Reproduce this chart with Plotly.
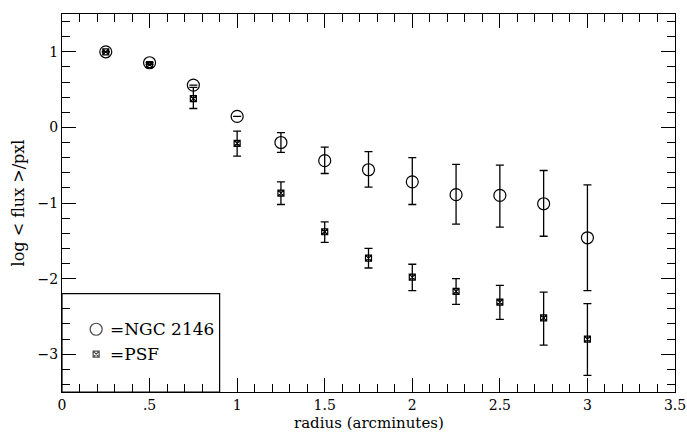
import plotly.graph_objects as go

# radius in arcminutes
radius = [0.25, 0.5, 0.75, 1.0, 1.25, 1.5, 1.75, 2.0, 2.25, 2.5, 2.75, 3.0]

# NGC 2146 profile (log flux/pxl) with upper/lower error extents
ngc = [1.0, 0.855, 0.56, 0.145, -0.20, -0.44, -0.56, -0.72, -0.89, -0.90, -1.01, -1.46]
ngc_up = [0, 0, 0, 0, 0.13, 0.18, 0.24, 0.32, 0.40, 0.40, 0.44, 0.70]
ngc_dn = [0, 0, 0, 0, 0.13, 0.17, 0.23, 0.30, 0.39, 0.42, 0.43, 0.70]

# PSF profile
psf = [1.0, 0.83, 0.38, -0.21, -0.87, -1.38, -1.73, -1.98, -2.17, -2.31, -2.52, -2.80]
psf_up = [0, 0, 0.15, 0.16, 0.15, 0.13, 0.13, 0.17, 0.17, 0.22, 0.34, 0.47]
psf_dn = [0, 0, 0.13, 0.17, 0.15, 0.14, 0.13, 0.18, 0.17, 0.23, 0.36, 0.48]

x_ticks = [0, 0.5, 1, 1.5, 2, 2.5, 3, 3.5]
x_labels = ["0", ".5", "1", "1.5", "2", "2.5", "3", "3.5"]
y_ticks = [-3, -2, -1, 0, 1]

legend_names = ["=NGC 2146", "=PSF"]
x_title = "radius (arcminutes)"
y_title = "log < flux >/pxl"

FONT = "DejaVu Serif"
BLACK = "black"

fig = go.Figure()

fig.add_trace(go.Scatter(
    x=radius, y=ngc, mode="markers", name="NGC 2146",
    marker=dict(symbol="circle-open", size=12, color=BLACK, line=dict(width=1.2)),
    error_y=dict(type="data", symmetric=False, array=ngc_up, arrayminus=ngc_dn,
                 color=BLACK, thickness=1.3, width=4),
    showlegend=False,
))

fig.add_trace(go.Scatter(
    x=radius, y=psf, mode="markers", name="PSF",
    marker=dict(symbol="square-x-open", size=6, color=BLACK, line=dict(width=1.2)),
    error_y=dict(type="data", symmetric=False, array=psf_up, arrayminus=psf_dn,
                 color=BLACK, thickness=1.3, width=4),
    showlegend=False,
))

# legend box (drawn inside the axes)
leg_x, leg_y = [0.195, 0.195], [-2.67, -3.0]
fig.add_trace(go.Scatter(
    x=leg_x, y=leg_y, mode="markers", showlegend=False, hoverinfo="skip",
    marker=dict(symbol=["circle-open", "square-x-open"], size=[12, 6], color=BLACK,
                line=dict(width=1.2)),
))
for yy, name in zip(leg_y, legend_names):
    fig.add_annotation(x=0.26, y=yy, text=name, showarrow=False, xanchor="left",
                       yanchor="middle", font=dict(family=FONT, size=17, color=BLACK))
fig.add_shape(type="rect", x0=0, x1=0.9, y0=-3.5, y1=-2.2,
              line=dict(color=BLACK, width=1.2), fillcolor="rgba(0,0,0,0)")

# x-axis title placed just under the tick labels
fig.add_annotation(x=0.5, y=0, xref="paper", yref="paper", text=x_title,
                   showarrow=False, xanchor="center", yanchor="top", yshift=-20,
                   font=dict(family=FONT, size=15, color=BLACK))

axis_common = dict(
    showgrid=False, zeroline=False, showline=True, linecolor=BLACK, linewidth=1.2,
    mirror="allticks", ticks="inside", tickcolor=BLACK, tickwidth=1, ticklen=14,
    tickfont=dict(family=FONT, size=14, color=BLACK), automargin=False,
)

fig.update_xaxes(
    range=[0, 3.5], tickvals=x_ticks, ticktext=x_labels,
    minor=dict(dtick=0.1, tick0=0, ticks="inside", ticklen=8, tickcolor=BLACK, tickwidth=1),
    **axis_common,
)
fig.update_yaxes(
    range=[-3.5, 1.5], tickvals=y_ticks,
    minor=dict(dtick=0.2, tick0=0, ticks="inside", ticklen=8, tickcolor=BLACK, tickwidth=1),
    title=dict(text=y_title, font=dict(family=FONT, size=16, color=BLACK), standoff=8),
    **axis_common,
)

fig.update_layout(
    width=687, height=433,
    margin=dict(l=62, r=12, t=14, b=41),
    plot_bgcolor="white", paper_bgcolor="white",
)

fig.write_html("out.html")
